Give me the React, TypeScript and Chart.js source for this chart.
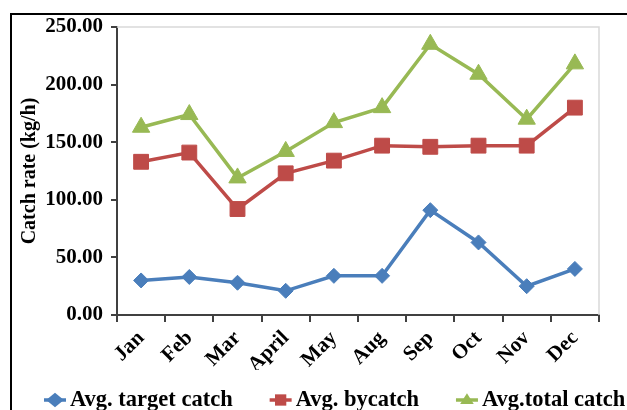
import React, { useEffect, useRef } from 'react';
import { Chart, registerables } from 'chart.js';

Chart.register(...registerables);

const months = ['Jan', 'Feb', 'Mar', 'April', 'May', 'Aug', 'Sep', 'Oct', 'Nov', 'Dec'];
const targetCatch = [30, 33, 28, 21, 34, 34, 91, 63, 25, 40];
const bycatch = [133, 141, 92, 123, 134, 147, 146, 147, 147, 180];
const totalCatch = [163, 174, 119, 142, 167, 180, 235, 209, 170, 218];
const seriesNames = ['Avg. target catch', 'Avg. bycatch', 'Avg.total catch'];
const yAxisTitle = 'Catch rate (kg/h)';
const yMin = 0;
const yMax = 250;
const yStep = 50;

const COLORS = ['#4A7EBB', '#BE4B48', '#98B954'];
const STYLES = ['rectRot', 'rect', 'triangle'];
const RADII = [7.5, 10.5, 10];
const FONT = '"Liberation Serif", "Times New Roman", serif';

function drawMarker(ctx: CanvasRenderingContext2D, style: string, x: number, y: number, r: number) {
  ctx.beginPath();
  if (style === 'rectRot') {
    ctx.moveTo(x - r * 1.1, y);
    ctx.lineTo(x, y - r * 0.9);
    ctx.lineTo(x + r * 1.1, y);
    ctx.lineTo(x, y + r * 0.9);
  } else if (style === 'rect') {
    const s = r * Math.SQRT1_2;
    ctx.rect(x - s, y - s, 2 * s, 2 * s);
  } else {
    const h = r * 0.85;
    ctx.moveTo(x, y - h);
    ctx.lineTo(x + h, y + h * 0.6);
    ctx.lineTo(x - h, y + h * 0.6);
  }
  ctx.closePath();
  ctx.fill();
}

const framePlugin = {
  id: 'frame',
  beforeDatasetsDraw(chart: any) {
    const { ctx, chartArea } = chart;
    ctx.save();
    ctx.strokeStyle = '#D9D9D9';
    ctx.lineWidth = 1.5;
    ctx.beginPath();
    ctx.moveTo(chartArea.left, chartArea.top);
    ctx.lineTo(chartArea.right, chartArea.top);
    ctx.lineTo(chartArea.right, chartArea.bottom);
    ctx.stroke();
    ctx.restore();
  },
  afterDraw(chart: any) {
    const { ctx } = chart;
    ctx.save();
    // outer frame
    ctx.strokeStyle = '#000';
    ctx.lineWidth = 2;
    ctx.beginPath();
    ctx.moveTo(11, chart.height);
    ctx.lineTo(11, 14);
    ctx.lineTo(chart.width, 14);
    ctx.stroke();
    // legend
    ctx.font = 'bold 22.5px ' + FONT;
    ctx.textBaseline = 'middle';
    ctx.textAlign = 'left';
    const y = 400;
    let x = 44;
    chart.data.datasets.forEach((ds: any, i: number) => {
      ctx.strokeStyle = ds.borderColor;
      ctx.fillStyle = ds.borderColor;
      ctx.lineWidth = 3.5;
      ctx.beginPath();
      ctx.moveTo(x, y);
      ctx.lineTo(x + 22, y);
      ctx.stroke();
      drawMarker(ctx, STYLES[i], x + 11, y, 8);
      ctx.fillStyle = '#000';
      ctx.fillText(ds.label, x + 26, y);
      x += 26 + ctx.measureText(ds.label).width + 37;
    });
    ctx.restore();
  },
};

export default function App() {
  const ref = useRef<HTMLCanvasElement>(null);
  useEffect(() => {
    if (!ref.current) return;
    const series = [targetCatch, bycatch, totalCatch];
    const chart = new Chart(ref.current, {
      type: 'line',
      data: {
        labels: months,
        datasets: series.map((d, i) => ({
          label: seriesNames[i],
          data: d,
          borderColor: COLORS[i],
          backgroundColor: COLORS[i],
          pointBackgroundColor: COLORS[i],
          pointBorderColor: COLORS[i],
          pointBorderWidth: 1,
          pointStyle: STYLES[i] as any,
          pointRadius: RADII[i],
          borderWidth: 3.5,
          tension: 0,
          fill: false,
        })),
      },
      options: {
        responsive: false,
        animation: false,
        devicePixelRatio: 1,
        layout: { padding: { left: 14, right: 28, top: 27, bottom: 40 } },
        plugins: {
          legend: { display: false },
          tooltip: { enabled: false },
        },
        scales: {
          x: {
            offset: true,
            grid: {
              offset: true,
              drawOnChartArea: false,
              drawTicks: true,
              tickLength: 7,
              color: '#404040',
              lineWidth: 2,
            },
            border: { color: '#404040', width: 2 },
            ticks: {
              color: '#000',
              font: { family: FONT, size: 21, weight: 'bold' },
              maxRotation: 45,
              minRotation: 45,
              padding: 4,
              autoSkip: false,
            },
            afterFit: (s: any) => {
              s.height = 55;
            },
          },
          y: {
            min: yMin,
            max: yMax,
            grid: {
              drawOnChartArea: false,
              drawTicks: true,
              tickLength: 6,
              color: '#404040',
              lineWidth: 2,
            },
            border: { color: '#404040', width: 2 },
            ticks: {
              stepSize: yStep,
              color: '#000',
              padding: 8,
              font: { family: FONT, size: 21, weight: 'bold' },
              callback: (v: any) => Number(v).toFixed(2),
            },
            title: {
              display: true,
              text: yAxisTitle,
              color: '#000',
              font: { family: FONT, size: 20, weight: 'bold' },
              padding: { top: 4, bottom: 4 },
            },
            afterFit: (s: any) => {
              s.width = 103;
            },
          },
        },
      },
      plugins: [framePlugin],
    });
    return () => chart.destroy();
  }, []);
  return (
    <div style={{ position: 'absolute', left: 0, top: 0, width: 627, height: 410, background: '#fff' }}>
      <canvas ref={ref} width={627} height={410} style={{ display: 'block' }} />
    </div>
  );
}
